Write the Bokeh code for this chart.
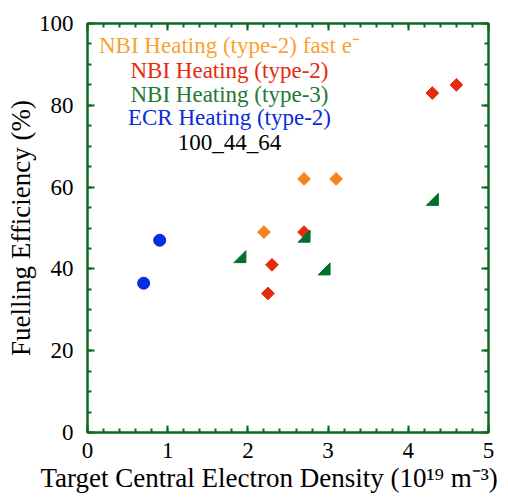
import numpy as np
from bokeh.plotting import figure
from bokeh.models import LinearAxis, Range1d, ColumnDataSource, Title
from bokeh.core.properties import value
from bokeh.embed import file_html
from bokeh.resources import INLINE

# ---- data ----
fast_x = [2.2, 2.7, 3.1]
fast_y = [49, 62, 62]
nbi2_x = [2.25, 2.3, 2.7, 4.3, 4.6]
nbi2_y = [34, 41, 49, 83, 85]
nbi3_x = [1.9, 2.7, 2.95, 4.3]
nbi3_y = [43, 48, 40, 57]
ecr_x = [0.7, 0.9]
ecr_y = [36.5, 47]

legend_texts = ["NBI Heating (type-2) fast e\u207b", "NBI Heating (type-2)",
                "NBI Heating (type-3)", "ECR Heating (type-2)", "100_44_64"]
x_label = "Target Central Electron Density (10\u00b9\u2079 m\u207b\u00b3)"
y_label = "Fuelling Efficiency (%)"
x_ticks = [0, 1, 2, 3, 4, 5]
y_ticks = [0, 20, 40, 60, 80, 100]

ORANGE = "#F5821F"
ORANGE_T = "#F9A234"
RED = "#E62A0C"
GREEN = "#00702A"
GREEN_T = "#1E7A34"
BLUE = "#0A2BDE"
FRAME = "#0B6B1F"
FONT = "Times New Roman"

XMIN, XMAX, YMIN, YMAX = 0, 5, 0, 100
FW, FH = 401, 409

p = figure(frame_width=FW, frame_height=FH, output_backend="svg", toolbar_location=None,
           x_range=Range1d(XMIN, XMAX), y_range=Range1d(YMIN, YMAX),
           min_border_left=87, min_border_right=20, min_border_top=23, min_border_bottom=67)
p.grid.visible = False
p.outline_line_color = FRAME
p.outline_line_width = 2
p.background_fill_color = "white"
p.border_fill_color = "white"


def style_axis(ax):
    ax.axis_line_color = FRAME
    ax.axis_line_width = 2
    ax.major_tick_line_color = FRAME
    ax.major_tick_line_width = 2
    ax.minor_tick_line_color = FRAME
    ax.minor_tick_line_width = 2
    ax.major_tick_in = 7
    ax.major_tick_out = 0
    ax.minor_tick_in = 4
    ax.minor_tick_out = 0
    ax.major_label_text_font = FONT
    ax.major_label_text_color = "black"
    ax.axis_label_text_font = FONT
    ax.axis_label_text_font_style = "normal"
    ax.axis_label_text_color = "black"


xa = p.xaxis[0]
ya = p.yaxis[0]
style_axis(xa)
style_axis(ya)
xa.ticker.desired_num_ticks = 6
xa.ticker.num_minor_ticks = 5
ya.ticker.desired_num_ticks = 6
ya.ticker.num_minor_ticks = 4
xa.major_label_text_font_size = "23px"
ya.major_label_text_font_size = "23px"
xa.major_label_standoff = 10
ya.major_label_standoff = 14
ya.axis_label = y_label
ya.axis_label_text_font_size = "27px"
ya.axis_label_standoff = 0

# x-axis title, placed a little left of the frame centre as in the original
p.add_layout(Title(text=x_label, align="left", offset=-47, text_font=FONT,
                   text_font_size="27px", text_font_style="normal",
                   text_color="black", standoff=0), "below")

top = LinearAxis()
right = LinearAxis()
for ax, ticks in ((top, x_ticks), (right, y_ticks)):
    style_axis(ax)
    ax.ticker.desired_num_ticks = 6
    ax.major_label_overrides = {t: "" for t in ticks}
    ax.major_label_text_font_size = "2px"
    ax.major_label_standoff = 0
top.ticker.num_minor_ticks = 5
right.ticker.num_minor_ticks = 4
p.add_layout(top, "above")
p.add_layout(right, "right")

# markers
p.scatter(fast_x, fast_y, marker="square", angle=np.pi / 4, size=9,
          fill_color=ORANGE, line_color=ORANGE)
p.scatter(nbi2_x, nbi2_y, marker="square", angle=np.pi / 4, size=9,
          fill_color=RED, line_color=RED)

# right triangles (right angle at bottom-right), half-size in pixels -> data units
half_px = 6
dx = half_px * (XMAX - XMIN) / FW
dy = half_px * (YMAX - YMIN) / FH
tri_xs = [[x - dx, x + dx, x + dx] for x in nbi3_x]
tri_ys = [[y - dy, y - dy, y + dy] for y in nbi3_y]
p.patches(tri_xs, tri_ys, fill_color=GREEN, line_color=GREEN, line_width=1)

p.scatter(ecr_x, ecr_y, marker="circle", size=12, fill_color=BLUE, line_color=BLUE)

# legend text block
leg_colors = [ORANGE_T, RED, GREEN_T, BLUE, "black"]
leg_y = [94.6, 88.6, 82.6, 77.1, 70.9]
src = ColumnDataSource(dict(x=[1.77] * 5, y=leg_y, t=legend_texts, c=leg_colors))
p.text(x="x", y="y", text="t", text_color="c", source=src,
       text_font=value(FONT), text_font_size="23px",
       text_align="center", text_baseline="middle")

open("out.html", "w").write(file_html(p, INLINE))
